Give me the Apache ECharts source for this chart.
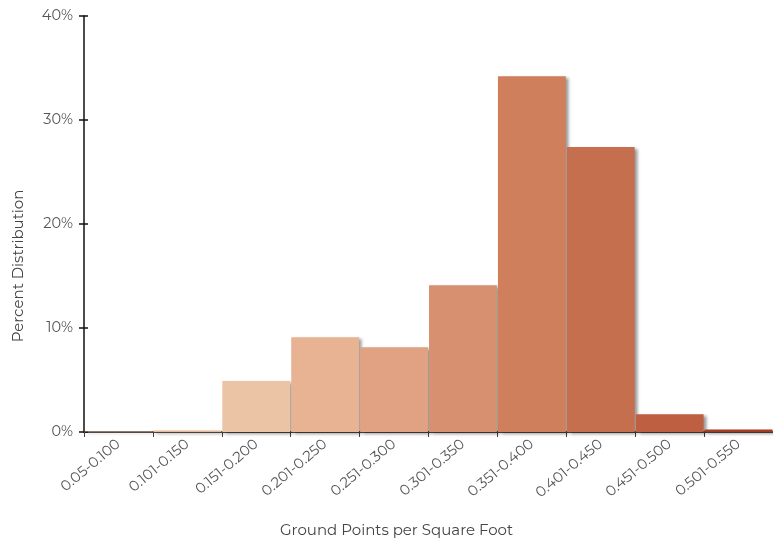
<!DOCTYPE html>
<html><head><meta charset="utf-8">
<script src="https://cdn.jsdelivr.net/npm/echarts@6/dist/echarts.min.js"></script>
<style>html,body{margin:0;padding:0;background:#fff}#c{width:773px;height:545px}</style>
</head><body><div id="c"></div>
<script>
const categories = ['0.05-0.100','0.101-0.150','0.151-0.200','0.201-0.250','0.251-0.300','0.301-0.350','0.351-0.400','0.401-0.450','0.451-0.500','0.501-0.550'];
const values = [0.05, 0.15, 4.9, 9.1, 8.15, 14.1, 34.2, 27.4, 1.7, 0.25];
const barColors = ['#c9a68c','#e8b898','#ebc3a5','#e7b393','#e0a283','#d79171','#d07f5d','#c66f4f','#bd5f40','#a33d22'];
const yTicks = [0, 10, 20, 30, 40];
const FONT = 'Montserrat, "Open Sans", Lato, sans-serif';

const chart = echarts.init(document.getElementById('c'), null, {renderer:'canvas'});
chart.setOption({
  animation:false,
  grid:{left:84, top:16, width:697, height:416, containLabel:false},
  xAxis:{
    type:'category', data:categories, boundaryGap:true,
    axisLine:{lineStyle:{color:'#5a4a42', width:2}},
    axisTick:{show:true, length:5, lineStyle:{color:'#444'}, alignWithLabel:false},
    axisLabel:{rotate:40, color:'#555', fontSize:14.5, fontFamily:FONT, margin:10, interval:0}
  },
  yAxis:[{
    type:'value', min:yTicks[0], max:yTicks[yTicks.length-1], interval:10,
    axisLine:{show:true, lineStyle:{color:'#111', width:1.5}},
    axisTick:{show:true, length:5, lineStyle:{color:'#111', width:1.5}},
    splitLine:{show:false},
    axisLabel:{formatter:v=>v+'%', color:'#555', fontSize:14.5, fontFamily:FONT, margin:11}
  },{
    type:'value', position:'left', min:0, max:40, interval:10,
    axisLine:{show:false},
    axisTick:{show:true, inside:true, length:4, lineStyle:{color:'#111', width:1.5}},
    axisLabel:{show:false}, splitLine:{show:false}
  }],
  series:[{
    type:'bar', data:values.map((v,i)=>({value:v, itemStyle:{color:barColors[i]}})),
    barCategoryGap:'1.5%',
    itemStyle:{shadowColor:'rgba(0,0,0,0.4)', shadowBlur:3, shadowOffsetX:3, shadowOffsetY:2}
  }],
  graphic:[
    {type:'text', left:280, top:523, style:{text:'Ground Points per Square Foot', fill:'#444', font:'15px '+FONT}},
    {type:'text', x:19, y:266, rotation:Math.PI/2, style:{text:'Percent Distribution', fill:'#444', font:'15px '+FONT, align:'center', verticalAlign:'middle'}}
  ]
});
</script></body></html>
